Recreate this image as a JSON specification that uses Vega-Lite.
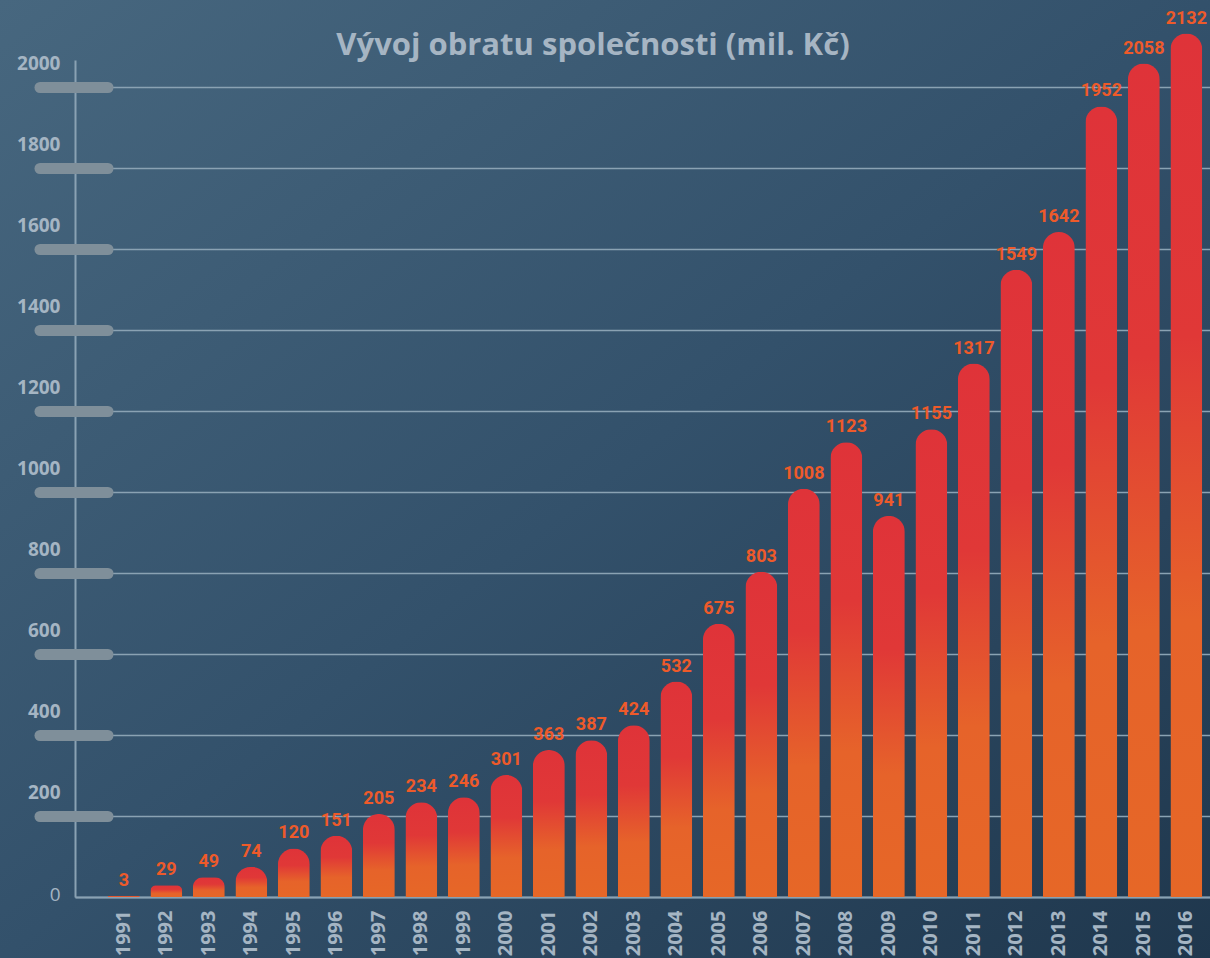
{
  "$schema": "https://vega.github.io/schema/vega-lite/v6.json",
  "width": 1210,
  "height": 958,
  "autosize": {"type": "none"},
  "padding": 0,
  "background": "#3a5872",
  "title": {
    "text": "Vývoj obratu společnosti (mil. Kč)",
    "font": "Open Sans",
    "fontSize": 31,
    "fontWeight": "bold",
    "color": "#a6b5c3",
    "anchor": "middle",
    "frame": "group",
    "baseline": "alphabetic",
    "offset": 5,
    "dx": -12,
    "dy": 91
  },
  "data": {
    "values": [
      {"year": "1991", "value": 3},
      {"year": "1992", "value": 29},
      {"year": "1993", "value": 49},
      {"year": "1994", "value": 74},
      {"year": "1995", "value": 120},
      {"year": "1996", "value": 151},
      {"year": "1997", "value": 205},
      {"year": "1998", "value": 234},
      {"year": "1999", "value": 246},
      {"year": "2000", "value": 301},
      {"year": "2001", "value": 363},
      {"year": "2002", "value": 387},
      {"year": "2003", "value": 424},
      {"year": "2004", "value": 532},
      {"year": "2005", "value": 675},
      {"year": "2006", "value": 803},
      {"year": "2007", "value": 1008},
      {"year": "2008", "value": 1123},
      {"year": "2009", "value": 941},
      {"year": "2010", "value": 1155},
      {"year": "2011", "value": 1317},
      {"year": "2012", "value": 1549},
      {"year": "2013", "value": 1642},
      {"year": "2014", "value": 1952},
      {"year": "2015", "value": 2058},
      {"year": "2016", "value": 2132}
    ]
  },
  "encoding": {
    "x": {
      "field": "year",
      "type": "ordinal",
      "scale": {"range": [75, 1210], "paddingInner": 0.25, "paddingOuter": 0.478, "align": 0.81},
      "axis": {
        "title": null,
        "offset": -61,
        "domain": true,
        "domainColor": "#8aa2b3",
        "domainWidth": 2,
        "ticks": false,
        "labelAngle": -90,
        "labelAlign": "right",
        "labelBaseline": "middle",
        "labelFont": "Open Sans",
        "labelFontSize": 20,
        "labelFontWeight": "bold",
        "labelColor": "#a5b5c3",
        "labelPadding": 13
      }
    }
  },
  "layer": [
    {
      "mark": {
        "type": "bar",
        "cornerRadiusTopLeft": 16,
        "cornerRadiusTopRight": 16,
        "color": {
          "gradient": "linear",
          "x1": 0, "y1": 0, "x2": 0, "y2": 1,
          "stops": [
            {"offset": 0, "color": "#df3339"},
            {"offset": 0.35, "color": "#e03837"},
            {"offset": 0.68, "color": "#e6632a"},
            {"offset": 1, "color": "#e66727"}
          ]
        }
      },
      "encoding": {
        "y": {
          "field": "value",
          "type": "quantitative",
          "scale": {"domain": [0, 2066.7], "range": [897, 60], "nice": false, "zero": true},
          "axis": {
            "title": null,
            "orient": "left",
            "offset": -75,
            "format": "d",
            "values": [0, 200, 400, 600, 800, 1000, 1200, 1400, 1600, 1800, 2000],
            "domain": true,
            "domainColor": "#8aa2b3",
            "domainWidth": 2,
            "ticks": false,
            "tickSize": 0,
            "grid": true,
            "gridColor": "#8aa2b3",
            "gridWidth": 1.5,
            "labelFont": "Open Sans",
            "labelFontSize": 19,
            "labelFontWeight": {"condition": {"test": "datum.value === 0", "value": "normal"}, "value": "bold"},
            "labelColor": "#a5b5c3",
            "labelAlign": "right",
            "labelBaseline": "middle",
            "labelPadding": 15,
            "labelOffset": {"condition": {"test": "datum.value === 0", "value": -3}, "value": -24}
          }
        }
      }
    },
    {
      "mark": {
        "type": "text",
        "dy": -10,
        "baseline": "alphabetic",
        "align": "center",
        "font": "Roboto",
        "fontSize": 18,
        "fontWeight": "bold",
        "color": "#ee5a2a"
      },
      "encoding": {
        "y": {
          "field": "value",
          "type": "quantitative",
          "axis": {
            "title": null,
            "orient": "left",
            "values": [200, 400, 600, 800, 1000, 1200, 1400, 1600, 1800, 2000],
            "domain": false,
            "labels": false,
            "grid": false,
            "ticks": true,
            "tickSize": 68,
            "tickWidth": 11,
            "tickCap": "round",
            "tickColor": "#7f8f9a",
            "offset": -107.5
          }
        },
        "text": {"field": "value", "type": "quantitative", "format": "d"}
      }
    }
  ],
  "resolve": {"axis": {"y": "independent"}},
  "config": {
    "view": {
      "stroke": null,
      "fill": {
        "gradient": "linear",
        "x1": 0, "y1": 0, "x2": 1, "y2": 1,
        "stops": [
          {"offset": 0, "color": "#47677f"},
          {"offset": 0.5, "color": "#33516b"},
          {"offset": 1, "color": "#1f374d"}
        ]
      }
    }
  }
}
